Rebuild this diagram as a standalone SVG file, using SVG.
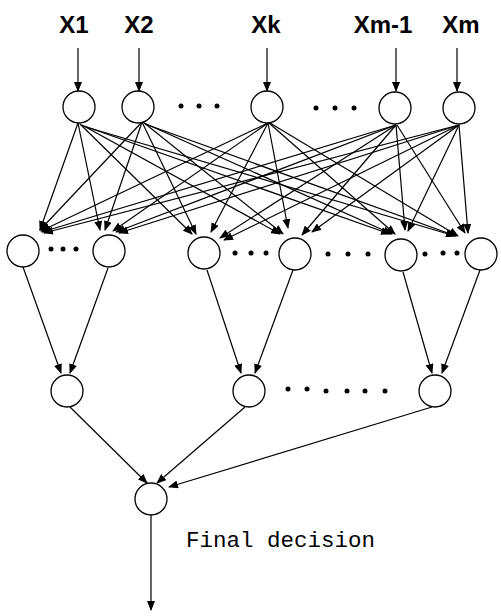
<svg xmlns="http://www.w3.org/2000/svg" width="501" height="616" viewBox="0 0 501 616">
<style>
.n{fill:#fff;stroke:#000;stroke-width:1.3}
.c line{stroke:#000;stroke-width:1.2;marker-end:url(#a)}
.lbl{font-family:"Liberation Sans",Arial,sans-serif;font-weight:bold;font-size:24px;text-anchor:middle}
.mono{font-family:"Liberation Mono","Courier New",monospace;font-size:22.5px}
.d circle{fill:#000}
</style>
<defs>
<marker id="a" markerWidth="10" markerHeight="8" refX="9" refY="4" orient="auto" markerUnits="userSpaceOnUse">
<path d="M0,0 L10,4 L0,8 Z" fill="#000"/>
</marker>
</defs>
<rect width="501" height="616" fill="#fff"/>
<g id="labels">
<text class="lbl" x="74" y="33">X1</text>
<text class="lbl" x="139" y="33">X2</text>
<text class="lbl" x="266" y="33">Xk</text>
<text class="lbl" x="383" y="33">Xm-1</text>
<text class="lbl" x="461" y="33">Xm</text>
<text class="mono" x="186" y="547">Final decision</text>
</g>
<g class="c" id="connectors">
<line x1="78" y1="48" x2="78" y2="91"/>
<line x1="139" y1="48" x2="139" y2="91"/>
<line x1="267" y1="48" x2="267" y2="91"/>
<line x1="396" y1="48" x2="396" y2="91"/>
<line x1="457" y1="48" x2="457" y2="91"/>
<!-- X1 -->
<line x1="78" y1="123" x2="40" y2="230"/>
<line x1="78" y1="123" x2="100" y2="230"/>
<line x1="80" y1="124" x2="192" y2="234"/>
<line x1="82" y1="125" x2="280" y2="234"/>
<line x1="84" y1="126" x2="390" y2="234"/>
<line x1="86" y1="127" x2="455" y2="236"/>
<!-- X2 -->
<line x1="142" y1="122" x2="40" y2="230"/>
<line x1="142" y1="122" x2="105" y2="230"/>
<line x1="142" y1="122" x2="196" y2="234"/>
<line x1="143" y1="122" x2="283" y2="234"/>
<line x1="144" y1="123" x2="392" y2="234"/>
<line x1="145" y1="124" x2="456" y2="236"/>
<!-- Xk -->
<line x1="268" y1="123" x2="41" y2="231"/>
<line x1="268" y1="123" x2="113" y2="231"/>
<line x1="268" y1="123" x2="211" y2="232"/>
<line x1="268" y1="123" x2="288" y2="228"/>
<line x1="269" y1="123" x2="395" y2="234"/>
<line x1="270" y1="123" x2="458" y2="236"/>
<!-- Xm-1 -->
<line x1="396" y1="125" x2="42" y2="232"/>
<line x1="396" y1="125" x2="116" y2="232"/>
<line x1="396" y1="125" x2="220" y2="238"/>
<line x1="396" y1="125" x2="302" y2="235"/>
<line x1="396" y1="125" x2="405" y2="230"/>
<line x1="397" y1="125" x2="465" y2="233"/>
<!-- Xm -->
<line x1="459" y1="125" x2="44" y2="233"/>
<line x1="459" y1="125" x2="119" y2="233"/>
<line x1="459" y1="125" x2="224" y2="240"/>
<line x1="459" y1="125" x2="312" y2="232"/>
<line x1="459" y1="125" x2="408" y2="231"/>
<line x1="459" y1="125" x2="468" y2="233"/>
<!-- middle to third -->
<line x1="23" y1="267" x2="61" y2="373"/>
<line x1="108" y1="268" x2="70" y2="373"/>
<line x1="207" y1="270" x2="241" y2="373"/>
<line x1="293" y1="270" x2="255" y2="373"/>
<line x1="403" y1="272" x2="432" y2="373"/>
<line x1="480" y1="270" x2="442" y2="373"/>
<!-- third to final -->
<line x1="70" y1="407" x2="147" y2="483"/>
<line x1="245" y1="407" x2="157" y2="483"/>
<line x1="432" y1="407" x2="169" y2="487"/>
<line x1="151" y1="515" x2="151" y2="610"/>
</g>
<g id="top">
<circle id="t1" class="n" cx="79" cy="107" r="16"/>
<circle id="t2" class="n" cx="138" cy="107" r="16"/>
<circle id="tk" class="n" cx="267" cy="107" r="16"/>
<circle id="tm1" class="n" cx="395" cy="108" r="16"/>
<circle id="tm" class="n" cx="459" cy="108" r="16"/>
</g>
<g id="middle">
<circle id="m1" class="n" cx="23" cy="251" r="16"/>
<circle id="m2" class="n" cx="109" cy="251" r="16"/>
<circle id="m3" class="n" cx="204" cy="253" r="16"/>
<circle id="m4" class="n" cx="295" cy="254" r="16"/>
<circle id="m5" class="n" cx="401" cy="255" r="16"/>
<circle id="m6" class="n" cx="481" cy="254" r="16"/>
</g>
<g id="third">
<circle id="h1" class="n" cx="67" cy="391" r="16"/>
<circle id="h2" class="n" cx="249" cy="391" r="16"/>
<circle id="h3" class="n" cx="435" cy="391" r="16"/>
</g>
<g id="final">
<circle id="f" class="n" cx="151" cy="499" r="16"/>
</g>
<g class="d" id="dots">
<circle cx="181" cy="106" r="2.5"/><circle cx="199" cy="106" r="2.5"/><circle cx="217" cy="106" r="2.5"/>
<circle cx="316" cy="108" r="2.5"/><circle cx="335" cy="108" r="2.5"/><circle cx="354" cy="108" r="2.5"/>
<circle cx="51" cy="249" r="2.5"/><circle cx="63" cy="249" r="2.5"/><circle cx="76" cy="249" r="2.5"/>
<circle cx="235" cy="253" r="2.5"/><circle cx="251" cy="253" r="2.5"/><circle cx="266" cy="253" r="2.5"/>
<circle cx="328" cy="254" r="2.5"/><circle cx="348" cy="254" r="2.5"/><circle cx="368" cy="254" r="2.5"/>
<circle cx="425" cy="254" r="2.5"/><circle cx="443" cy="253" r="2.5"/><circle cx="457" cy="253" r="2.5"/>
<circle cx="288" cy="389" r="2.5"/><circle cx="307" cy="389" r="2.5"/><circle cx="326" cy="391" r="2.5"/><circle cx="347" cy="391" r="2.5"/><circle cx="365" cy="391" r="2.5"/><circle cx="385" cy="391" r="2.5"/>
</g>
</svg>
